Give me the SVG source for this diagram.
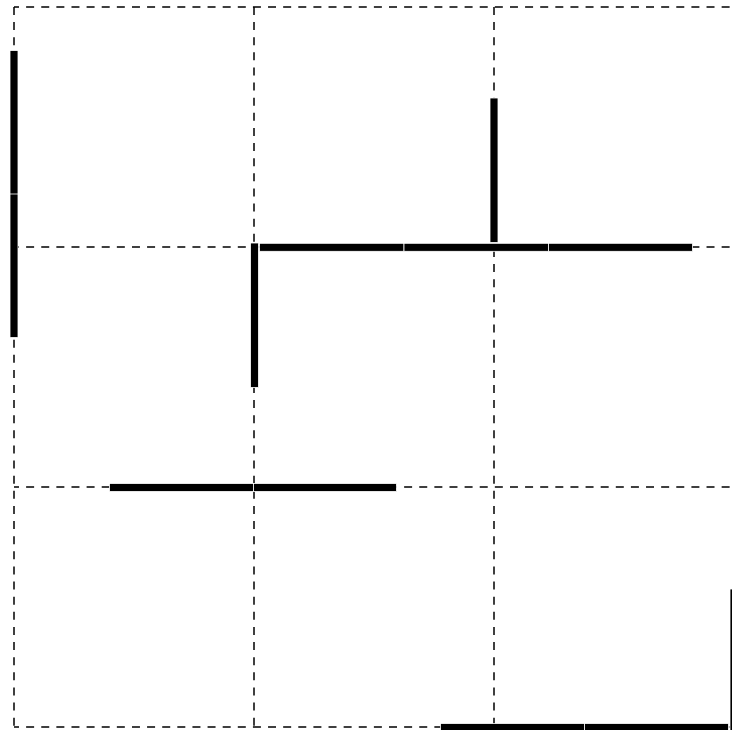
<svg xmlns="http://www.w3.org/2000/svg" width="732" height="730" viewBox="0 0 732 730">
<style>
.grid{stroke:#000;stroke-width:1.5;stroke-dasharray:8,7.12;fill:none}
.h{stroke-dashoffset:3}
.seg{fill:#000;stroke:#fff;stroke-width:0.8}
</style>
<rect x="0" y="0" width="732" height="730" fill="#fff"/>
<g id="grid">
<line class="grid h" x1="14" y1="7" x2="734" y2="7"/>
<line class="grid h" x1="14" y1="247" x2="734" y2="247"/>
<line class="grid h" x1="14" y1="487" x2="734" y2="487"/>
<line class="grid h" x1="14" y1="727" x2="734" y2="727"/>
<line class="grid" x1="14" y1="7" x2="14" y2="727"/>
<line class="grid" x1="254" y1="7" x2="254" y2="727"/>
<line class="grid" x1="494" y1="7" x2="494" y2="727"/>
<line class="grid" x1="734" y1="7" x2="734" y2="727"/>
</g>
<g id="walls">
<rect class="seg" x="10" y="50.5" width="8" height="144"/>
<rect class="seg" x="10" y="194" width="8" height="143.5"/>
<rect class="seg" x="250.5" y="243" width="8" height="144.5"/>
<rect class="seg" x="259.5" y="243.3" width="144.5" height="8"/>
<rect class="seg" x="404" y="243.3" width="144.5" height="8"/>
<rect class="seg" x="548.5" y="243.3" width="144" height="8"/>
<rect class="seg" x="490" y="98" width="8" height="144.5"/>
<rect class="seg" x="109.5" y="483.5" width="144" height="8"/>
<rect class="seg" x="253.5" y="483.5" width="143" height="8"/>
<rect class="seg" x="440.5" y="723.5" width="144" height="8"/>
<rect class="seg" x="584.5" y="723.5" width="144" height="8"/>
<rect class="seg" x="730" y="589" width="8" height="144"/>
</g>
</svg>
